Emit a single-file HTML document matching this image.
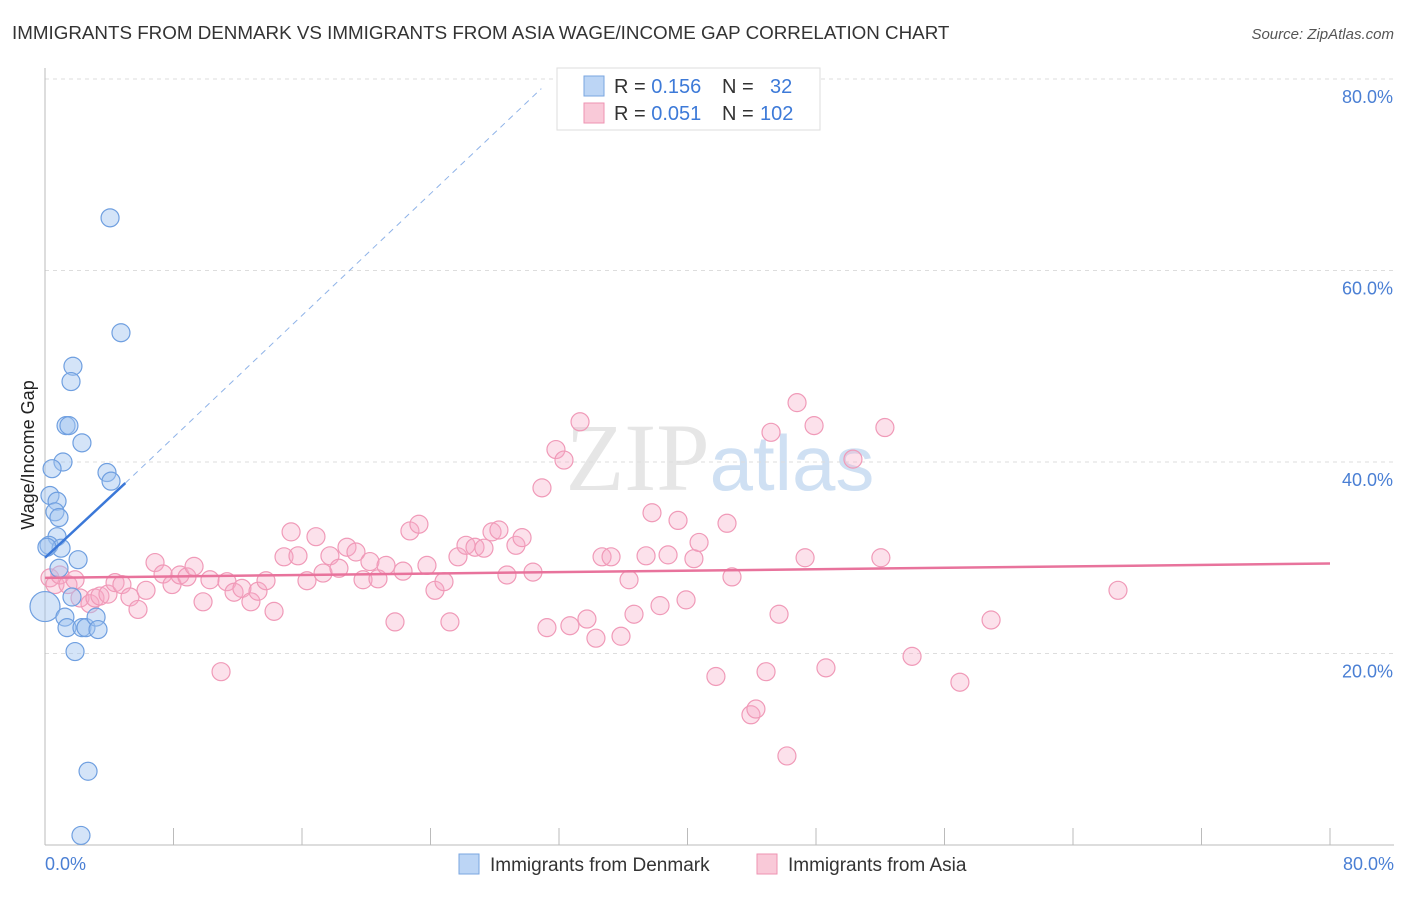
<!DOCTYPE html>
<html><head><meta charset="utf-8"><style>
body{margin:0;background:#fff;font-family:"Liberation Sans",sans-serif;}
</style></head><body>
<svg width="1406" height="892" xmlns="http://www.w3.org/2000/svg" font-family="Liberation Sans, sans-serif">
<text x="12" y="39" font-size="18.8" fill="#333">IMMIGRANTS FROM DENMARK VS IMMIGRANTS FROM ASIA WAGE/INCOME GAP CORRELATION CHART</text>
<text x="1394" y="39" font-size="15" fill="#555" font-style="italic" text-anchor="end">Source: ZipAtlas.com</text>
<text x="720" y="490" font-size="96" fill="#e6e6e6" text-anchor="middle" font-family="Liberation Serif, serif">ZIP<tspan fill="#cfe0f3" font-family="Liberation Sans, sans-serif" font-size="78">atlas</tspan></text>
<g id="grid"></g>
<g id="marks"></g>
<text transform="translate(34,455) rotate(-90)" font-size="18" fill="#222" text-anchor="middle">Wage/Income Gap</text>
<text x="45" y="870" font-size="18" fill="#4a7fd4">0.0%</text>
<text x="1394" y="870" font-size="18" fill="#4a7fd4" text-anchor="end">80.0%</text>
<g>
<rect x="557" y="68" width="263" height="62" fill="#fff" stroke="#ddd"/>
<rect x="584" y="76" width="20" height="20" fill="#bcd5f5" stroke="#7aa6e0"/>
<rect x="584" y="103" width="20" height="20" fill="#f9c9d8" stroke="#ee93b2"/>
<text x="614" y="93" font-size="20" fill="#333">R = <tspan fill="#3d7ad8">0.156</tspan><tspan x="722">N = </tspan><tspan x="770" fill="#3d7ad8">32</tspan></text>
<text x="614" y="120" font-size="20" fill="#333">R = <tspan fill="#3d7ad8">0.051</tspan><tspan x="722">N = </tspan><tspan x="760" fill="#3d7ad8">102</tspan></text>
</g>
<g>
<rect x="459" y="854" width="20" height="20" fill="#bcd5f5" stroke="#7aa6e0"/>
<text x="490" y="871" font-size="19" fill="#333">Immigrants from Denmark</text>
<rect x="757" y="854" width="20" height="20" fill="#f9c9d8" stroke="#ee93b2"/>
<text x="788" y="871" font-size="19" fill="#333">Immigrants from Asia</text>
</g>
</svg>
<script>
const yTicks=[20,40,60,80];
const xTickCount=10;
const denmarkX=[4.05,4.73,1.74,1.62,1.31,1.49,2.3,1.12,0.44,3.86,4.11,0.31,0.75,0.62,0.87,0.75,0.25,1.0,2.06,0.87,0.0,1.68,1.24,1.37,2.3,2.55,3.18,3.3,1.87,2.68,2.24,0.12];
const denmarkY=[65.5,53.5,50.0,48.4,43.8,43.8,42.0,40.0,39.3,38.9,38.0,36.5,35.9,34.8,34.2,32.2,31.3,31.0,29.8,28.9,24.9,25.9,23.8,22.7,22.7,22.7,23.8,22.5,20.2,7.7,1.0,31.1];
const denmarkR=[9,9,9,9,9,9,9,9,9,9,9,9,9,9,9,9,9,9,9,9,15,9,9,9,9,9,9,9,9,9,9,9];
const asiaX=[0.31,0.62,0.93,1.43,1.87,2.18,2.80,3.11,3.42,3.92,4.36,4.79,5.29,5.79,6.29,6.85,7.35,7.91,8.40,8.84,9.28,9.84,10.27,10.96,11.33,11.77,12.26,12.82,13.26,13.76,14.26,14.88,15.32,15.75,16.31,16.87,17.31,17.74,18.30,18.80,19.36,19.80,20.23,20.73,21.23,21.79,22.29,22.72,23.28,23.78,24.28,24.84,25.21,25.71,26.21,26.77,27.33,27.83,28.26,28.76,29.32,29.70,30.38,30.94,31.25,31.81,32.31,32.68,33.31,33.74,34.30,34.68,35.24,35.86,36.36,36.67,37.42,37.79,38.29,38.79,39.41,39.91,40.40,40.72,41.77,42.46,42.77,43.95,44.26,44.89,45.20,45.70,46.19,46.82,47.32,47.88,48.62,50.30,52.04,52.29,53.98,56.96,58.90,66.80];
const asiaY=[27.9,27.2,28.2,27.2,27.7,25.8,25.2,25.8,26.0,26.2,27.4,27.2,25.9,24.6,26.6,29.5,28.3,27.2,28.2,28.0,29.1,25.4,27.7,18.1,27.5,26.4,26.8,25.4,26.5,27.6,24.4,30.1,32.7,30.2,27.6,32.2,28.4,30.2,28.9,31.1,30.6,27.7,29.6,27.8,29.2,23.3,28.6,32.8,33.5,29.2,26.6,27.5,23.3,30.1,31.3,31.1,31.0,32.7,32.9,28.2,31.3,32.1,28.5,37.3,22.7,41.3,40.2,22.9,44.2,23.6,21.6,30.1,30.1,21.8,27.7,24.1,30.2,34.7,25.0,30.3,33.9,25.6,29.9,31.6,17.6,33.6,28.0,13.6,14.2,18.1,43.1,24.1,9.3,46.2,30.0,43.8,18.5,40.3,30.0,43.6,19.7,17.0,23.5,26.6];
const trendDenmark=[[0,30.0],[5,37.8]];
const trendDenmarkExt=[[5,37.8],[30.9,79]];
const trendAsia=[[0,27.9],[80,29.4]];
const NS="http://www.w3.org/2000/svg";
const X0=45,X1=1330,Y0=845,YT=79;
const sx=v=>X0+(v/80)*(X1-X0);
const sy=v=>Y0-(v/80)*(Y0-YT);
function mk(tag,attrs,parent){const e=document.createElementNS(NS,tag);for(const k in attrs)e.setAttribute(k,attrs[k]);parent.appendChild(e);return e;}
const grid=document.getElementById('grid');
const marks=document.getElementById('marks');
yTicks.forEach(t=>{
 const l=mk('line',{x1:X0,x2:1394,y1:sy(t),y2:sy(t),stroke:'#ddd','stroke-dasharray':'4,4'},grid);
 
 
 const tx=mk('text',{x:1393,y:sy(t)+24,'font-size':18,fill:'#4a7fd4','text-anchor':'end'},grid);
 tx.textContent=t.toFixed(1)+'%';
 
 
});
const ax=mk('line',{x1:X0,x2:X0,y1:68,y2:Y0,stroke:'#bbb'},grid);


const bx=mk('line',{x1:X0,x2:1394,y1:Y0,y2:Y0,stroke:'#bbb'},grid);


for(let i=0;i<=xTickCount;i++){
 const v=80*i/xTickCount;
 const t=mk('line',{x1:sx(v),x2:sx(v),y1:828,y2:Y0,stroke:'#bbb'},grid);
 
 
}
asiaX.forEach((x,i)=>{
 const c=mk('circle',{cx:sx(x),cy:sy(asiaY[i]),r:9,fill:'rgba(246,170,198,0.35)',stroke:'#f09ab8','stroke-width':1.2},marks);
 
 
});
denmarkX.forEach((x,i)=>{
 const c=mk('circle',{cx:sx(x),cy:sy(denmarkY[i]),r:denmarkR[i],fill:'rgba(160,195,240,0.45)',stroke:'#6f9fe0','stroke-width':1.2},marks);
 
 
});
const ta=mk('line',{x1:sx(trendAsia[0][0]),y1:sy(trendAsia[0][1]),x2:sx(trendAsia[1][0]),y2:sy(trendAsia[1][1]),stroke:'#e8739c','stroke-width':2.5},marks);


const td=mk('line',{x1:sx(trendDenmark[0][0]),y1:sy(trendDenmark[0][1]),x2:sx(trendDenmark[1][0]),y2:sy(trendDenmark[1][1]),stroke:'#3b78d8','stroke-width':2.5},marks);


const te=mk('line',{x1:sx(trendDenmarkExt[0][0]),y1:sy(trendDenmarkExt[0][1]),x2:sx(trendDenmarkExt[1][0]),y2:sy(trendDenmarkExt[1][1]),stroke:'#8fb3e8','stroke-width':1,'stroke-dasharray':'6,5'},marks);


</script>
</body></html>
